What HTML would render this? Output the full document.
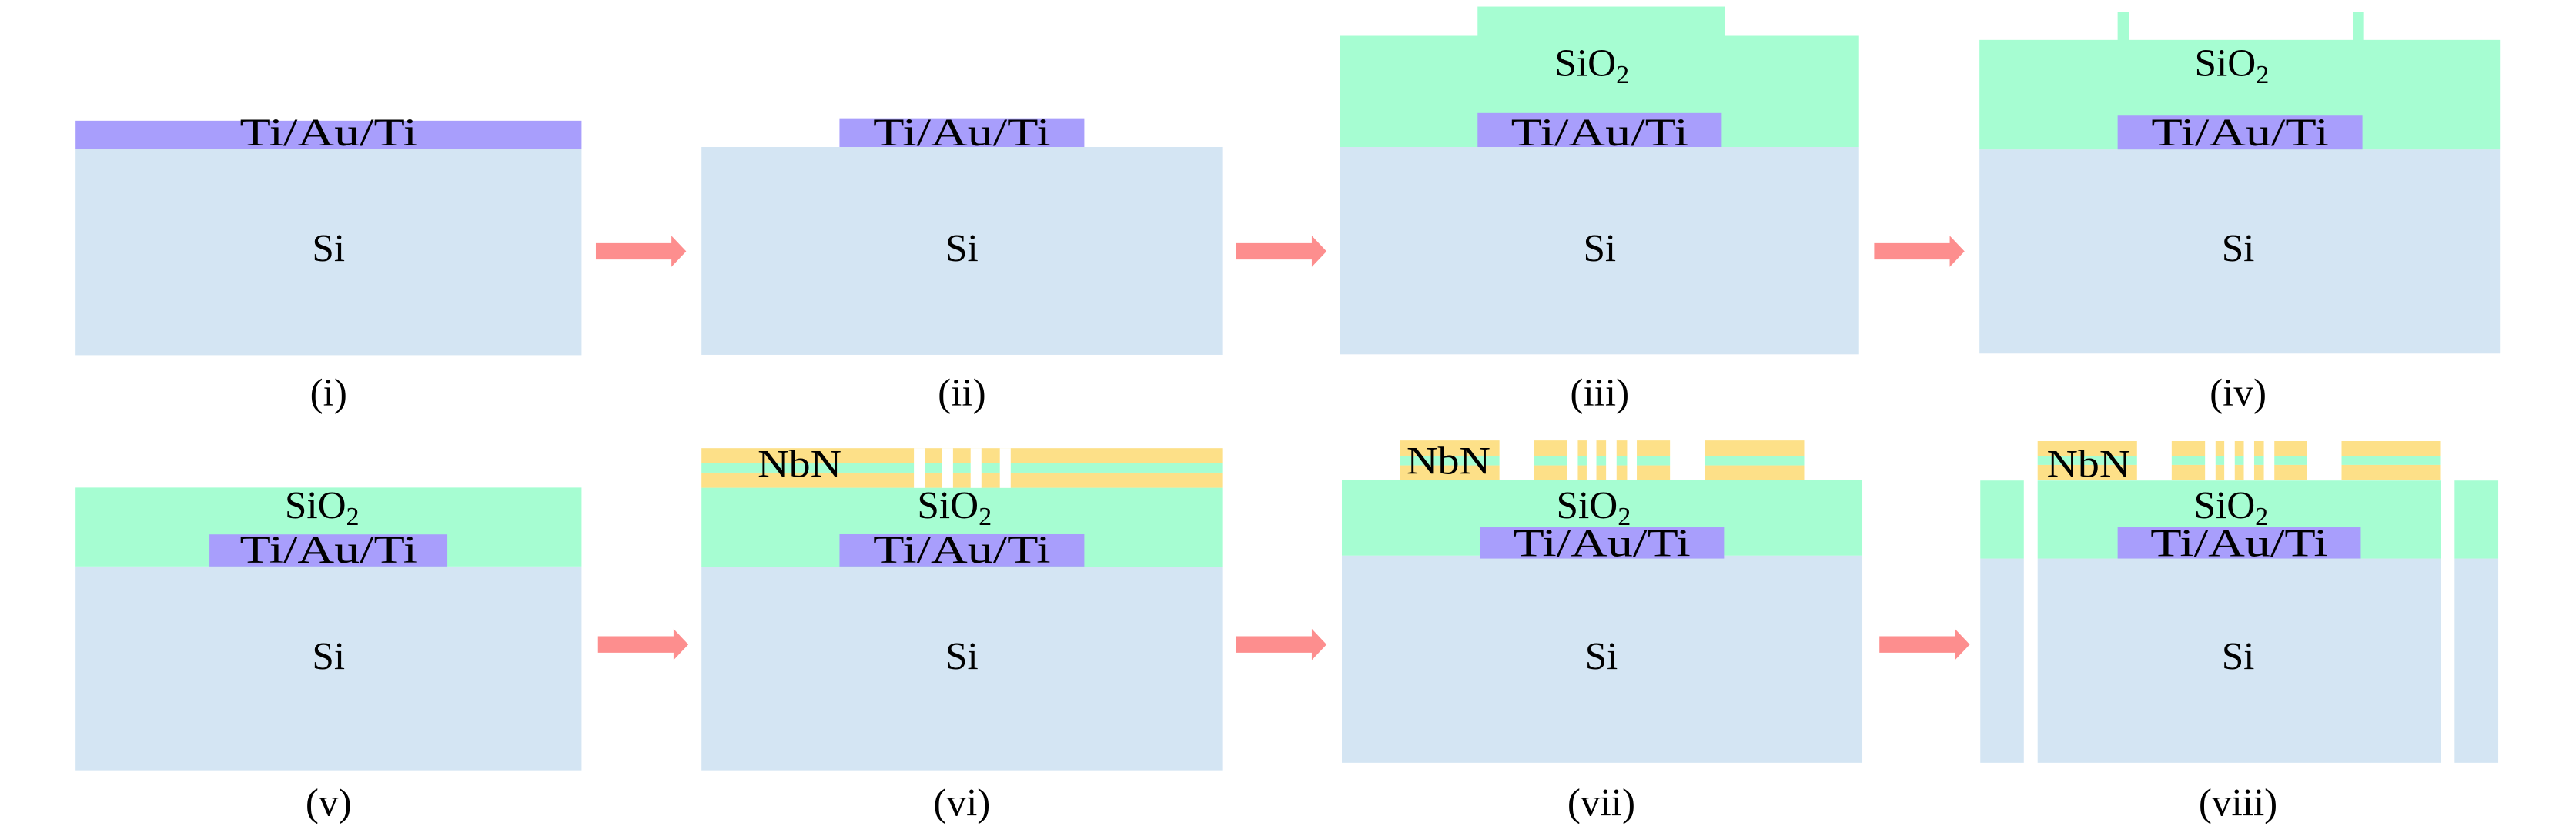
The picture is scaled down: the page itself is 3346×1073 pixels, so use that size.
<!DOCTYPE html>
<html><head><meta charset="utf-8"><style>
html,body{margin:0;padding:0;background:#fff;}
svg{display:block;}
text{font-family:"Liberation Serif",serif;fill:#000;}
</style></head><body>
<svg width="3346" height="1073" viewBox="0 0 1568 502.8" preserveAspectRatio="none" xmlns="http://www.w3.org/2000/svg">
<defs>
<g id="arrow"><polygon points="0,4.5 46,4.5 46,0 55,9.5 46,19 46,14.5 0,14.5" fill="#fd8e8e"/></g>
</defs>
<g font-size="24">
<!-- Panel i -->
<rect x="46" y="90.5" width="308" height="125.7" fill="#d4e5f3"/>
<rect x="46" y="73.5" width="308" height="17" fill="#a89efc"/>
<text x="200" y="88.5" text-anchor="middle" textLength="108" lengthAdjust="spacingAndGlyphs">Ti/Au/Ti</text>
<text x="200" y="159" text-anchor="middle">Si</text>
<text x="200" y="247" text-anchor="middle">(i)</text>
<use href="#arrow" transform="translate(362.7,143.5)"/>

<!-- Panel ii -->
<rect x="427" y="89.5" width="317" height="126.5" fill="#d4e5f3"/>
<rect x="511" y="72" width="149" height="17.5" fill="#a89efc"/>
<text x="585.5" y="88.5" text-anchor="middle" textLength="108" lengthAdjust="spacingAndGlyphs">Ti/Au/Ti</text>
<text x="585.5" y="159" text-anchor="middle">Si</text>
<text x="585.5" y="247" text-anchor="middle">(ii)</text>
<use href="#arrow" transform="translate(752.5,143.5)"/>

<!-- Panel iii -->
<rect x="815.8" y="89.5" width="315.8" height="126.2" fill="#d4e5f3"/>
<rect x="815.8" y="21.8" width="315.8" height="67.7" fill="#a6fdd2"/>
<rect x="899.4" y="4" width="150.5" height="18" fill="#a6fdd2"/>
<rect x="899.4" y="68.8" width="148.6" height="20.7" fill="#a89efc"/>
<text x="973.7" y="88.5" text-anchor="middle" textLength="108" lengthAdjust="spacingAndGlyphs">Ti/Au/Ti</text>
<text x="969" y="46.5" text-anchor="middle">SiO<tspan font-size="16" dy="4">2</tspan></text>
<text x="973.7" y="159" text-anchor="middle">Si</text>
<text x="973.7" y="247" text-anchor="middle">(iii)</text>
<use href="#arrow" transform="translate(1140.8,143.5)"/>

<!-- Panel iv -->
<rect x="1204.9" y="91" width="316.8" height="124.2" fill="#d4e5f3"/>
<rect x="1204.9" y="24.3" width="316.8" height="66.7" fill="#a6fdd2"/>
<rect x="1289" y="7.1" width="7" height="18" fill="#a6fdd2"/>
<rect x="1432.1" y="7.1" width="6.4" height="18" fill="#a6fdd2"/>
<rect x="1289" y="70.4" width="149" height="20.6" fill="#a89efc"/>
<text x="1363.5" y="88.5" text-anchor="middle" textLength="108" lengthAdjust="spacingAndGlyphs">Ti/Au/Ti</text>
<text x="1358.5" y="46.5" text-anchor="middle">SiO<tspan font-size="16" dy="4">2</tspan></text>
<text x="1362.3" y="159" text-anchor="middle">Si</text>
<text x="1362.3" y="247" text-anchor="middle">(iv)</text>

<!-- Panel v -->
<rect x="46" y="344.8" width="308" height="124.1" fill="#d4e5f3"/>
<rect x="46" y="296.8" width="308" height="48" fill="#a6fdd2"/>
<rect x="127.5" y="325.3" width="144.8" height="19.5" fill="#a89efc"/>
<text x="200" y="342.5" text-anchor="middle" textLength="108" lengthAdjust="spacingAndGlyphs">Ti/Au/Ti</text>
<text x="196" y="315.6" text-anchor="middle">SiO<tspan font-size="16" dy="4">2</tspan></text>
<text x="200" y="407.5" text-anchor="middle">Si</text>
<text x="200" y="496.5" text-anchor="middle">(v)</text>
<use href="#arrow" transform="translate(364,382.8)"/>

<!-- Panel vi -->
<rect x="427" y="344.8" width="317" height="124.1" fill="#d4e5f3"/>
<rect x="427" y="296.9" width="317" height="48" fill="#a6fdd2"/>
<rect x="427" y="272.8" width="317" height="9" fill="#fde088"/>
<rect x="427" y="281.8" width="317" height="5.9" fill="#a6fdd2"/>
<rect x="427" y="287.7" width="317" height="9.2" fill="#fde088"/>
<rect x="556.3" y="272.8" width="6.6" height="24.2" fill="#fff"/>
<rect x="573.5" y="272.8" width="6.6" height="24.2" fill="#fff"/>
<rect x="590.8" y="272.8" width="6.6" height="24.2" fill="#fff"/>
<rect x="608.6" y="272.8" width="6.6" height="24.2" fill="#fff"/>
<rect x="511" y="325.2" width="149" height="19.6" fill="#a89efc"/>
<text x="585.5" y="342.5" text-anchor="middle" textLength="108" lengthAdjust="spacingAndGlyphs">Ti/Au/Ti</text>
<text x="581" y="315.6" text-anchor="middle">SiO<tspan font-size="16" dy="4">2</tspan></text>
<text x="486.7" y="290.4" text-anchor="middle" textLength="51" lengthAdjust="spacingAndGlyphs">NbN</text>
<text x="585.5" y="407.5" text-anchor="middle">Si</text>
<text x="585.5" y="496.5" text-anchor="middle">(vi)</text>
<use href="#arrow" transform="translate(752.5,382.8)"/>

<!-- Panel vii -->
<rect x="816.8" y="338.2" width="316.8" height="126.1" fill="#d4e5f3"/>
<rect x="816.8" y="292" width="316.8" height="46.2" fill="#a6fdd2"/>
<g>
<rect x="852.2" y="268.1" width="60.5" height="9.3" fill="#fde088"/>
<rect x="852.2" y="277.4" width="60.5" height="5.9" fill="#a6fdd2"/>
<rect x="852.2" y="283.3" width="60.5" height="8.7" fill="#fde088"/>
<rect x="933.8" y="268.1" width="82.7" height="9.3" fill="#fde088"/>
<rect x="933.8" y="277.4" width="82.7" height="5.9" fill="#a6fdd2"/>
<rect x="933.8" y="283.3" width="82.7" height="8.7" fill="#fde088"/>
<rect x="1037.6" y="268.1" width="60.6" height="9.3" fill="#fde088"/>
<rect x="1037.6" y="277.4" width="60.6" height="5.9" fill="#a6fdd2"/>
<rect x="1037.6" y="283.3" width="60.6" height="8.7" fill="#fde088"/>
<rect x="954" y="268" width="6.4" height="24" fill="#fff"/>
<rect x="965.8" y="268" width="5.9" height="24" fill="#fff"/>
<rect x="977.6" y="268" width="6.4" height="24" fill="#fff"/>
<rect x="990.4" y="268" width="5.9" height="24" fill="#fff"/>
</g>
<rect x="900.9" y="321" width="148.5" height="19" fill="#a89efc"/>
<text x="975" y="338.5" text-anchor="middle" textLength="108" lengthAdjust="spacingAndGlyphs">Ti/Au/Ti</text>
<text x="970" y="315.6" text-anchor="middle">SiO<tspan font-size="16" dy="4">2</tspan></text>
<text x="881.7" y="288.4" text-anchor="middle" textLength="51" lengthAdjust="spacingAndGlyphs">NbN</text>
<text x="974.7" y="407.5" text-anchor="middle">Si</text>
<text x="974.7" y="496.5" text-anchor="middle">(vii)</text>
<use href="#arrow" transform="translate(1144,382.8)"/>

<!-- Panel viii -->
<rect x="1205.4" y="340" width="315.3" height="124.3" fill="#d4e5f3"/>
<rect x="1205.4" y="292.5" width="315.3" height="47.5" fill="#a6fdd2"/>
<rect x="1231.9" y="290" width="8.4" height="175" fill="#fff"/>
<rect x="1485.8" y="290" width="8.3" height="175" fill="#fff"/>
<g>
<rect x="1240.3" y="268.5" width="60.5" height="9" fill="#fde088"/>
<rect x="1240.3" y="277.5" width="60.5" height="5.5" fill="#a6fdd2"/>
<rect x="1240.3" y="283" width="60.5" height="9.3" fill="#fde088"/>
<rect x="1321.9" y="268.5" width="82.2" height="9" fill="#fde088"/>
<rect x="1321.9" y="277.5" width="82.2" height="5.5" fill="#a6fdd2"/>
<rect x="1321.9" y="283" width="82.2" height="9.3" fill="#fde088"/>
<rect x="1425.3" y="268.5" width="60" height="9" fill="#fde088"/>
<rect x="1425.3" y="277.5" width="60" height="5.5" fill="#a6fdd2"/>
<rect x="1425.3" y="283" width="60" height="9.3" fill="#fde088"/>
<rect x="1342.2" y="268" width="6.4" height="24.3" fill="#fff"/>
<rect x="1353.9" y="268" width="6.4" height="24.3" fill="#fff"/>
<rect x="1365.8" y="268" width="6.3" height="24.3" fill="#fff"/>
<rect x="1378" y="268" width="6.4" height="24.3" fill="#fff"/>
</g>
<rect x="1289" y="321" width="148" height="19" fill="#a89efc"/>
<text x="1363" y="338.5" text-anchor="middle" textLength="108" lengthAdjust="spacingAndGlyphs">Ti/Au/Ti</text>
<text x="1358" y="315.6" text-anchor="middle">SiO<tspan font-size="16" dy="4">2</tspan></text>
<text x="1271.3" y="290.4" text-anchor="middle" textLength="51" lengthAdjust="spacingAndGlyphs">NbN</text>
<text x="1362.3" y="407.5" text-anchor="middle">Si</text>
<text x="1362.3" y="496.5" text-anchor="middle">(viii)</text>
</g>
</svg>
</body></html>
